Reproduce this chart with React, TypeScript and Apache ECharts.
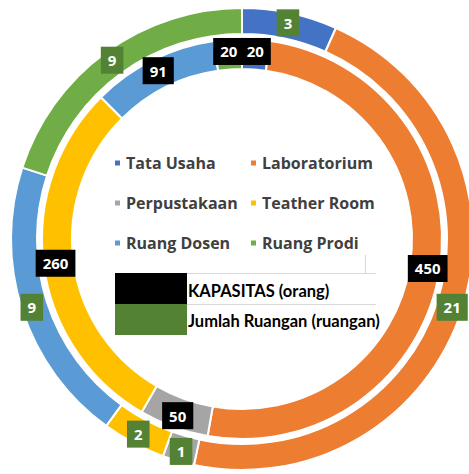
import React, { useEffect, useRef } from "react";
import * as echarts from "echarts";

const categories = ["Tata Usaha", "Laboratorium", "Perpustakaan", "Teather Room", "Ruang Dosen", "Ruang Prodi"];
const kapasitas = [20, 450, 50, 260, 91, 20];
const jumlahRuangan = [3, 21, 1, 2, 9, 9];
const sliceColors = ["#4472C4", "#ED7D31", "#A5A5A5", "#FFC000", "#5B9BD5", "#70AD47"];
const legendCol1 = ["Tata Usaha", "Perpustakaan", "Ruang Dosen"];
const legendCol2 = ["Laboratorium", "Teather Room", "Ruang Prodi"];
const seriesNames = ["KAPASITAS (orang)", "Jumlah Ruangan (ruangan)"];

export default function App() {
  const ref = useRef<HTMLDivElement>(null);
  useEffect(() => {
    document.body.style.margin = "0";
    const chart = echarts.init(ref.current!, null, { renderer: "svg" });
    const labelBase = {
      show: true,
      position: "inside",
      formatter: "{c}",
      color: "#fff",
      fontWeight: "bold",
      fontSize: 15,
      fontFamily: "Open Sans",
      lineHeight: 17,
      padding: [5, 7],
    };
    const legendText = {
      fontSize: 16,
      fontWeight: "bold",
      color: "#404040",
      fontFamily: "Open Sans",
      lineHeight: 16,
    };
    const legendBase = {
      orient: "vertical",
      top: 155,
      padding: 0,
      itemWidth: 7,
      itemHeight: 7,
      itemGap: 24,
      icon: "rect",
      selectedMode: false,
      textStyle: legendText,
    };
    const gridLine = { stroke: "#d9d9d9", lineWidth: 1 };
    chart.setOption({
      animation: false,
      color: sliceColors,
      legend: [
        { ...legendBase, left: 113, data: legendCol1 },
        { ...legendBase, left: 249, data: legendCol2 },
      ],
      graphic: [
        { type: "line", z: 100, shape: { x1: 187, y1: 273.5, x2: 376, y2: 273.5 }, style: gridLine },
        { type: "line", z: 100, shape: { x1: 187, y1: 304.5, x2: 376, y2: 304.5 }, style: gridLine },
        { type: "line", z: 100, shape: { x1: 365.5, y1: 255, x2: 365.5, y2: 273 }, style: gridLine },
        { type: "rect", z: 100, shape: { x: 115, y: 273, width: 72, height: 31 }, style: { fill: "#000" } },
        { type: "rect", z: 100, shape: { x: 115, y: 304, width: 72, height: 31 }, style: { fill: "#548235" } },
        {
          type: "text",
          z: 100,
          x: 188,
          y: 291,
          style: { text: seriesNames[0], fill: "#000", font: "bold 16.5px Lato", verticalAlign: "middle", align: "left" },
        },
        {
          type: "text",
          z: 100,
          x: 188,
          y: 321,
          style: { text: seriesNames[1], fill: "#000", font: "bold 16.5px Lato", verticalAlign: "middle", align: "left" },
        },
      ],
      series: [
        {
          name: seriesNames[0],
          type: "pie",
          center: [242, 239],
          radius: [170, 200],
          startAngle: 90,
          clockwise: true,
          silent: true,
          avoidLabelOverlap: false,
          labelLayout: { hideOverlap: false },
          itemStyle: { borderColor: "#fff", borderWidth: 2 },
          label: { ...labelBase, backgroundColor: "#000" },
          labelLine: { show: false },
          emphasis: { disabled: true },
          data: categories.map((c, i) => ({ name: c, value: kapasitas[i] })),
        },
        {
          name: seriesNames[1],
          type: "pie",
          center: [242, 239],
          radius: [205, 231],
          startAngle: 90,
          clockwise: true,
          silent: true,
          avoidLabelOverlap: false,
          labelLayout: { hideOverlap: false },
          itemStyle: { borderColor: "#fff", borderWidth: 2 },
          label: { ...labelBase, backgroundColor: "#548235" },
          labelLine: { show: false },
          emphasis: { disabled: true },
          data: categories.map((c, i) => ({ name: c, value: jumlahRuangan[i] })),
        },
      ],
    });
    return () => chart.dispose();
  }, []);
  return <div ref={ref} style={{ width: 469, height: 474 }} />;
}
